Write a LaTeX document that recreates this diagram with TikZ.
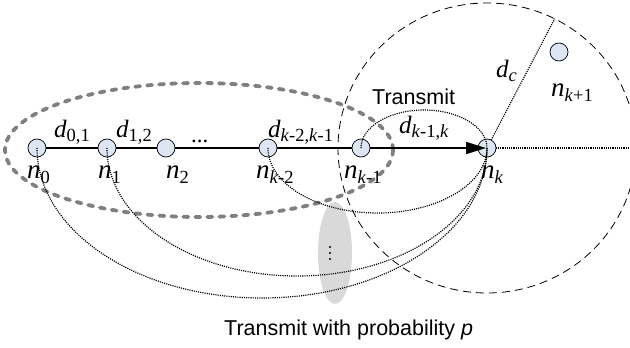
\documentclass[tikz,border=0pt]{standalone}
\usepackage{fontspec}
\setmainfont{Liberation Serif}
\newfontfamily\arial{Liberation Sans}
\usetikzlibrary{arrows.meta,shapes.geometric}
\definecolor{nodefill}{RGB}{222,230,244}
\definecolor{ellgray}{RGB}{128,128,128}
\definecolor{blobgray}{RGB}{217,217,217}
\newcommand\nl[1]{{\fontsize{27}{27}\selectfont\itshape n}\raisebox{-5pt}{\fontsize{18.5}{18.5}\selectfont #1}}
\newcommand\dl[1]{{\fontsize{25}{25}\selectfont\itshape d}\raisebox{-4.5pt}{\fontsize{18.5}{18.5}\selectfont #1}}
\newcommand\ki{\textit{k}}
\pgfdeclarelayer{back}
\pgfdeclarelayer{front}
\pgfsetlayers{back,main,front}
\begin{document}
\begin{tikzpicture}[x=1pt,y=-1pt,
  netnode/.style={circle,draw,line width=0.7pt,fill=nodefill,minimum size=18pt,inner sep=0pt},
  lab/.style={inner sep=0pt,anchor=base west},
  link/.style={line width=1.6pt},
  hop/.style={line width=1.2pt,dash pattern=on 1.1pt off 1.1pt},
  rangecirc/.style={line width=0.8pt,dash pattern=on 8pt off 5pt},
  grayell/.style={line width=3.8pt,ellgray,dash pattern=on 5pt off 7pt,line cap=round},
  sanslab/.style={inner sep=0pt,anchor=base west,font=\arial\fontsize{21.5}{21.5}\selectfont}
]
\useasboundingbox (0,0) rectangle (630,348);
\clip (0,0) rectangle (630,348);

% nodes
\node[netnode] (n0) at (37,148) {};
\node[netnode] (n1) at (107,148) {};
\node[netnode] (n2) at (166,148) {};
\node[netnode] (nkm2) at (268,148) {};
\node[netnode] (nkm1) at (361,148) {};
\node[netnode] (nk) at (487,148) {};
\node[netnode] (nkp1) at (559,52) {};

\begin{pgfonlayer}{back}
  \node[ellipse,fill=blobgray,minimum width=34pt,minimum height=102pt,inner sep=0pt] (blob) at (335,253) {};
  \fill (blob.center) ++(-5,-6) circle (1.2pt) ++(0,6) circle (1.2pt) ++(0,6) circle (1.2pt);
  \draw[grayell] (199,150) ellipse [x radius=194, y radius=67];
  \draw[rangecirc] (nk.center) ellipse [x radius=149, y radius=145];
  \path (nk.center) ++(-63:149 and 145) coordinate (dcend);
  \coordinate (rend) at (630,148);
  \draw[hop] (nk.center) -- (dcend);
  \draw[hop] (nk.center) -- (rend);
  \draw[link] (n0) -- (nkm1);
\end{pgfonlayer}

\begin{pgfonlayer}{front}
  \draw[link,-{Triangle[length=20pt,width=12pt]}] (nkm1.east) -- ([xshift=-1pt]nk.center);
  \draw[hop] (nkm1.center) arc[start angle=180, end angle=360, x radius=63, y radius=38];
  \draw[hop] (nkm2.center) arc[start angle=180, end angle=0, x radius=109.5, y radius=65];
  \draw[hop] (n1.center) arc[start angle=180, end angle=0, x radius=190, y radius=128];
  \draw[hop] (n0.center) arc[start angle=180, end angle=0, x radius=225, y radius=150];
\end{pgfonlayer}

% node labels
\node[lab] (l0) at (27,178) {\nl{0}};
\node[lab] (l1) at (98,178) {\nl{1}};
\node[lab] (l2) at (166,178) {\nl{2}};
\node[lab] (lkm2) at (256,178) {\nl{\ki-2}};
\node[lab] (lkm1) at (344,178) {\nl{\ki-1}};
\node[lab] (lk) at (481,178) {\nl{\ki}};
\node[lab] (lkp1) at (551,96) {\nl{\ki+1}};

% distance labels
\node[lab] (d01) at (54,137) {\dl{0,1}};
\node[lab] (d12) at (116,137) {\dl{1,2}};
\node[lab] (dots) at (191,142) {\fontsize{23}{23}\selectfont ...};
\node[lab] (dkm2) at (268,137) {\dl{\ki-2,\ki-1}};
\node[lab] (dkm1) at (399,133) {\dl{\ki-1,\ki}};
\node[lab] (dc) at (496,77) {\dl{\textit{c}}};

% texts
\node[sanslab] (tx) at (372,104) {Transmit};
\node[sanslab] (txp) at (224,335) {Transmit with probability \textit{p}};
\end{tikzpicture}
\end{document}
